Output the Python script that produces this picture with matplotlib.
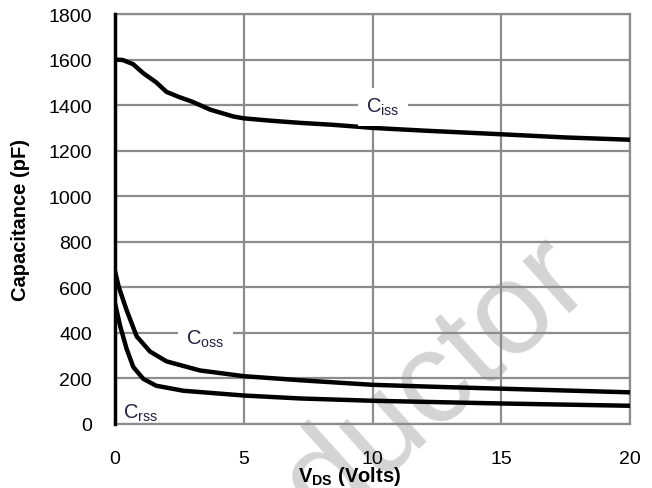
import matplotlib
matplotlib.use("Agg")
import matplotlib.pyplot as plt

plt.rcParams['font.family'] = ['Liberation Sans', 'DejaVu Sans']
plt.rcParams['mathtext.fontset'] = 'custom'
plt.rcParams['mathtext.rm'] = 'Liberation Sans'
plt.rcParams['mathtext.it'] = 'Liberation Sans'
plt.rcParams['mathtext.bf'] = 'Liberation Sans:bold'

# Data
v_iss = [0, 0.3, 0.7, 1.1, 1.6, 2.0, 2.5, 3.0, 3.7, 4.6, 5, 6, 7.2, 8.4, 9.1, 10, 12, 15, 17.5, 20]
c_iss = [1600, 1598, 1580, 1540, 1500, 1458, 1435, 1415, 1380, 1350, 1342, 1332, 1322, 1314, 1308, 1300, 1288, 1272, 1258, 1248]

v_oss = [0, 0.15, 0.45, 0.84, 1.36, 2.0, 3.3, 5, 7.2, 10, 12.5, 15, 17.5, 20]
c_oss = [670, 600, 500, 385, 318, 275, 235, 210, 192, 172, 163, 155, 147, 139]

v_rss = [0, 0.2, 0.45, 0.71, 1.1, 1.6, 2.65, 5, 7.2, 10, 15, 20]
c_rss = [530, 430, 330, 250, 198, 168, 146, 125, 112, 102, 90, 80]

x_ticks = [0, 5, 10, 15, 20]
y_ticks = [0, 200, 400, 600, 800, 1000, 1200, 1400, 1600, 1800]

labels = [r'$\mathregular{C_{iss}}$', r'$\mathregular{C_{oss}}$', r'$\mathregular{C_{rss}}$']

fig = plt.figure(figsize=(6.52, 4.89), dpi=100)
ax = fig.add_axes([0.1764, 0.1309, 0.7899, 0.8384])

ax.set_xlim(0, 20)
ax.set_ylim(0, 1800)
ax.set_xticks(x_ticks)
ax.set_yticks(y_ticks)
ax.tick_params(length=0, labelsize=14)
ax.tick_params(axis='y', pad=16.5)
ax.tick_params(axis='x', pad=19)
ax.grid(True, color='#8c8c8c', linewidth=1.6)
ax.set_axisbelow(True)

for s in ['top', 'right', 'bottom']:
    ax.spines[s].set_color('#8c8c8c')
    ax.spines[s].set_linewidth(1.6)
ax.spines['left'].set_color('black')
ax.spines['left'].set_linewidth(2.5)
ax.spines['left'].set_zorder(5)

# watermark (below grid lines)
ax.text(18.6, 610, 'Semiconductor', fontsize=94, color='#d4d4d4',
        rotation=42, rotation_mode='anchor', ha='right', va='baseline',
        clip_on=False, zorder=0.3)

ax.plot(v_iss, c_iss, color='black', lw=3.2, zorder=3, solid_capstyle='butt')
ax.plot(v_oss, c_oss, color='black', lw=3.2, zorder=3, solid_capstyle='butt')
ax.plot(v_rss, c_rss, color='black', lw=3.2, zorder=3, solid_capstyle='butt')

ax.text(10.4, 1393, labels[0], fontsize=14.5, color='#202040', ha='center', va='center',
        bbox=dict(facecolor='white', edgecolor='none', pad=6), zorder=4)
ax.text(3.5, 375, labels[1], fontsize=14.5, color='#202040', ha='center', va='center',
        bbox=dict(facecolor='white', edgecolor='none', pad=6), zorder=4)
ax.text(1.0, 50, labels[2], fontsize=14.5, color='#202040', ha='center', va='center',
        zorder=4)

ax.set_ylabel('Capacitance (pF)', fontsize=14.5, fontweight='bold', labelpad=13)
ax.set_xlabel(r'$\mathbf{V_{DS}}$ (Volts)', fontsize=14.5, fontweight='bold')
ax.xaxis.set_label_coords(0.456, -0.097)

fig.savefig('out.png', dpi=100)
